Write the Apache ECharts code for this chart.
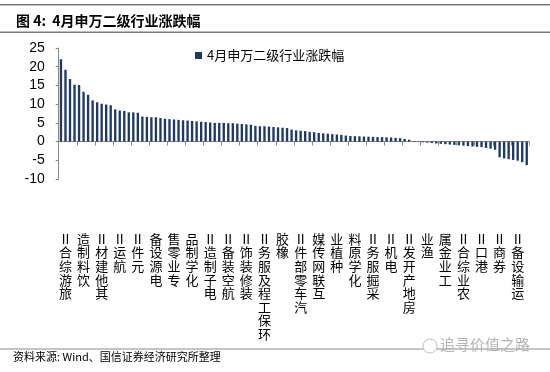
<!DOCTYPE html>
<html>
<head>
<meta charset="utf-8">
<script src="https://cdn.jsdelivr.net/npm/echarts@6/dist/echarts.min.js"></script>
<style>
html,body{margin:0;padding:0;background:#fff;}
#chart{width:550px;height:372px;}
</style>
</head>
<body>
<div id="chart"></div>
<script>
// Labelled industries (every 4th category, starting at index 1)
const labeledIndustries = [
  '旅游综合Ⅱ','饮料制造','其他建材Ⅱ','航运Ⅱ','元件Ⅱ','电源设备','专业零售','化学制品',
  '电子制造Ⅱ','航空装备Ⅱ','装修装饰Ⅱ','环保工程及服务Ⅱ','橡胶','汽车零部件Ⅱ','互联网传媒','种植业',
  '化学原料','采掘服务Ⅱ','电机Ⅱ','房地产开发Ⅱ','渔业','工业金属','农业综合Ⅱ','港口Ⅱ','券商Ⅱ','运输设备Ⅱ'
];
// April change (%) of 104 SW level-2 industries, sorted descending
const changes = [
  22.0, 19.2, 16.7, 15.2, 15.1, 13.3, 12.5, 11.0, 10.5, 10.1,
  9.9, 9.7, 8.6, 8.3, 8.2, 7.8, 7.8, 7.7, 6.7, 6.6,
  6.5, 6.5, 6.3, 6.1, 6.0, 5.9, 5.8, 5.7, 5.6, 5.5,
  5.4, 5.3, 5.2, 5.1, 5.0, 5.0, 5.0, 4.9, 4.9, 4.8,
  4.7, 4.6, 4.5, 4.2, 4.1, 4.1, 4.0, 3.9, 3.8, 3.7,
  3.6, 3.2, 3.0, 2.9, 2.8, 2.6, 2.5, 2.3, 2.2, 2.1,
  2.0, 1.9, 1.8, 1.6, 1.5, 1.45, 1.4, 1.35, 1.3, 1.25,
  1.2, 1.2, 1.15, 1.1, 1.0, 0.9, 0.7, 0.5, 0.1, -0.1,
  -0.2, -0.3, -0.4, -0.5, -0.6, -0.7, -0.8, -0.9, -1.0, -1.1,
  -1.2, -1.3, -1.4, -1.5, -1.7, -1.9, -2.2, -4.2, -4.5, -4.7,
  -4.9, -5.1, -5.5, -6.3
];
const yTicks = { min: -10, max: 25, step: 5 };
const seriesName = '4月申万二级行业涨跌幅';
const titleText = '图 4:  4月申万二级行业涨跌幅';
const sourceText = '资料来源: Wind、国信证券经济研究所整理';

const categories = changes.map((_, i) => (i % 4 === 1 ? labeledIndustries[(i - 1) / 4] : ''));

const chart = echarts.init(document.getElementById('chart'), null, { renderer: 'canvas' });
const cjk = '"Noto Sans CJK SC", "Noto Sans", sans-serif';
chart.setOption({
  animation: false,
  backgroundColor: '#fff',
  title: {
    text: titleText,
    left: 11, top: 9,
    textStyle: { fontSize: 14, fontWeight: 'bold', color: '#000', fontFamily: cjk }
  },
  legend: {
    data: [seriesName],
    left: 190, top: 44,
    icon: 'rect', itemWidth: 7, itemHeight: 7,
    textStyle: { fontSize: 13, color: '#000', fontFamily: cjk }
  },
  grid: { left: 58.7, right: 21, top: 48, bottom: 193, outerBoundsMode: 'none' },
  xAxis: {
    type: 'category',
    data: categories,
    axisLine: { onZero: true, lineStyle: { color: '#868686', width: 1 } },
    axisTick: { show: true, interval: 3, length: 4, lineStyle: { color: '#868686' } },
    axisLabel: {
      interval: (i) => i % 4 === 1,
      margin: 53,
      fontSize: 13,
      lineHeight: 13.6,
      color: '#000',
      fontFamily: cjk,
      formatter: (v) => v.split('').reverse().join('\n')
    },
    splitLine: { show: false }
  },
  yAxis: {
    type: 'value',
    min: yTicks.min, max: yTicks.max, interval: yTicks.step,
    axisLine: { show: true, lineStyle: { color: '#868686' } },
    axisTick: { show: true, length: 3, lineStyle: { color: '#868686' } },
    axisLabel: { fontSize: 14, color: '#000', margin: 14, fontFamily: 'Liberation Sans, Arial, sans-serif' },
    splitLine: { show: false }
  },
  series: [{
    name: seriesName,
    type: 'bar',
    data: changes,
    barCategoryGap: '48%',
    itemStyle: { color: '#1F3864' }
  }],
  graphic: [
    { type: 'rect', shape: { x: 0, y: 4, width: 550, height: 1.5 }, style: { fill: '#7a7a7a' } },
    { type: 'rect', shape: { x: 0, y: 31.5, width: 550, height: 1.5 }, style: { fill: '#7a7a7a' } },
    { type: 'rect', shape: { x: 0, y: 348.5, width: 550, height: 1 }, style: { fill: '#8c8c8c' } },
    { type: 'text', left: 13, top: 351, style: { text: sourceText, fontSize: 11, fill: '#000', fontFamily: cjk } },
    { type: 'circle', shape: { cx: 430, cy: 346, r: 7 }, style: { fill: '#fff', stroke: '#c0c0c0', lineWidth: 1 } },
    { type: 'text', left: 440, top: 337, style: { text: '追寻价值之路', fontSize: 15, fill: '#b5b5b5', fontFamily: cjk } }
  ]
});
</script>
</body>
</html>
